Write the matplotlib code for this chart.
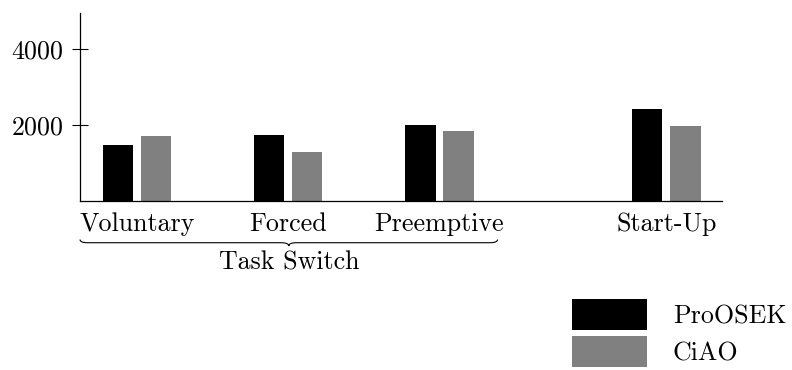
import matplotlib
matplotlib.use("Agg")

import numpy as np
import matplotlib.pyplot as plt
from matplotlib.path import Path
from matplotlib.patches import PathPatch
import matplotlib.transforms as mtransforms

plt.rcParams["font.family"] = ["cmr10", "DejaVu Serif"]
plt.rcParams["mathtext.fontset"] = "cm"
plt.rcParams["axes.formatter.use_mathtext"] = True
plt.rcParams["font.size"] = 18.7

# Datos (ciclos)
categorias = ["Voluntary", "Forced", "Preemptive", "Start-Up"]
posiciones = [0, 1, 2, 3.5]
proosek = [1470, 1750, 2000, 2435]
ciao = [1705, 1300, 1850, 1970]
grupo = "Task Switch"

fig = plt.figure(figsize=(7.92, 3.70), dpi=100)
ax = fig.add_axes([0.101, 0.4568, 0.8106, 0.5081])

x = np.array(posiciones)
ancho = 0.2
ax.bar(x - 0.126, proosek, ancho, color="black", label="ProOSEK")
ax.bar(x + 0.126, ciao, ancho, color="#808080", label="CiAO")

ax.set_xlim(-0.377, 3.868)
ax.set_ylim(0, 4950)
ax.set_yticks([2000, 4000])
ax.set_xticks(x)
ax.set_xticklabels(categorias)
ax.tick_params(axis="x", length=0, pad=8)
ax.tick_params(axis="y", direction="inout", length=11, width=0.8, pad=6)
for s in ["top", "right"]:
    ax.spines[s].set_visible(False)
for s in ["left", "bottom"]:
    ax.spines[s].set_linewidth(0.9)

# Llave bajo las tres primeras categorias
trans = mtransforms.blended_transform_factory(ax.transData, ax.transAxes)
x0 = ax.get_xlim()[0]
x1 = posiciones[2] + 0.384
xm = (x0 + x1) / 2
y_top, y_mid, y_bot = -0.205, -0.222, -0.240
r = 0.05
verts = [
    (x0, y_top), (x0, y_mid), (x0 + r, y_mid),
    (xm - r, y_mid),
    (xm, y_mid), (xm, y_bot),
    (xm, y_mid), (xm + r, y_mid),
    (x1 - r, y_mid),
    (x1, y_mid), (x1, y_top),
]
codes = [
    Path.MOVETO, Path.CURVE3, Path.CURVE3,
    Path.LINETO,
    Path.CURVE3, Path.CURVE3,
    Path.CURVE3, Path.CURVE3,
    Path.LINETO,
    Path.CURVE3, Path.CURVE3,
]
ax.add_patch(PathPatch(Path(verts, codes), transform=trans, fill=False,
                       lw=0.8, color="black", clip_on=False))
ax.text(xm, -0.33, grupo, transform=trans, ha="center", va="center")

fig.legend(loc="upper left", bbox_to_anchor=(0.7222, 0.1919), frameon=False,
           handlelength=2.88, handleheight=1.45, handletextpad=1.0,
           labelspacing=0.25, borderpad=0.0, borderaxespad=0.0)

fig.savefig("out.png", dpi=100)
